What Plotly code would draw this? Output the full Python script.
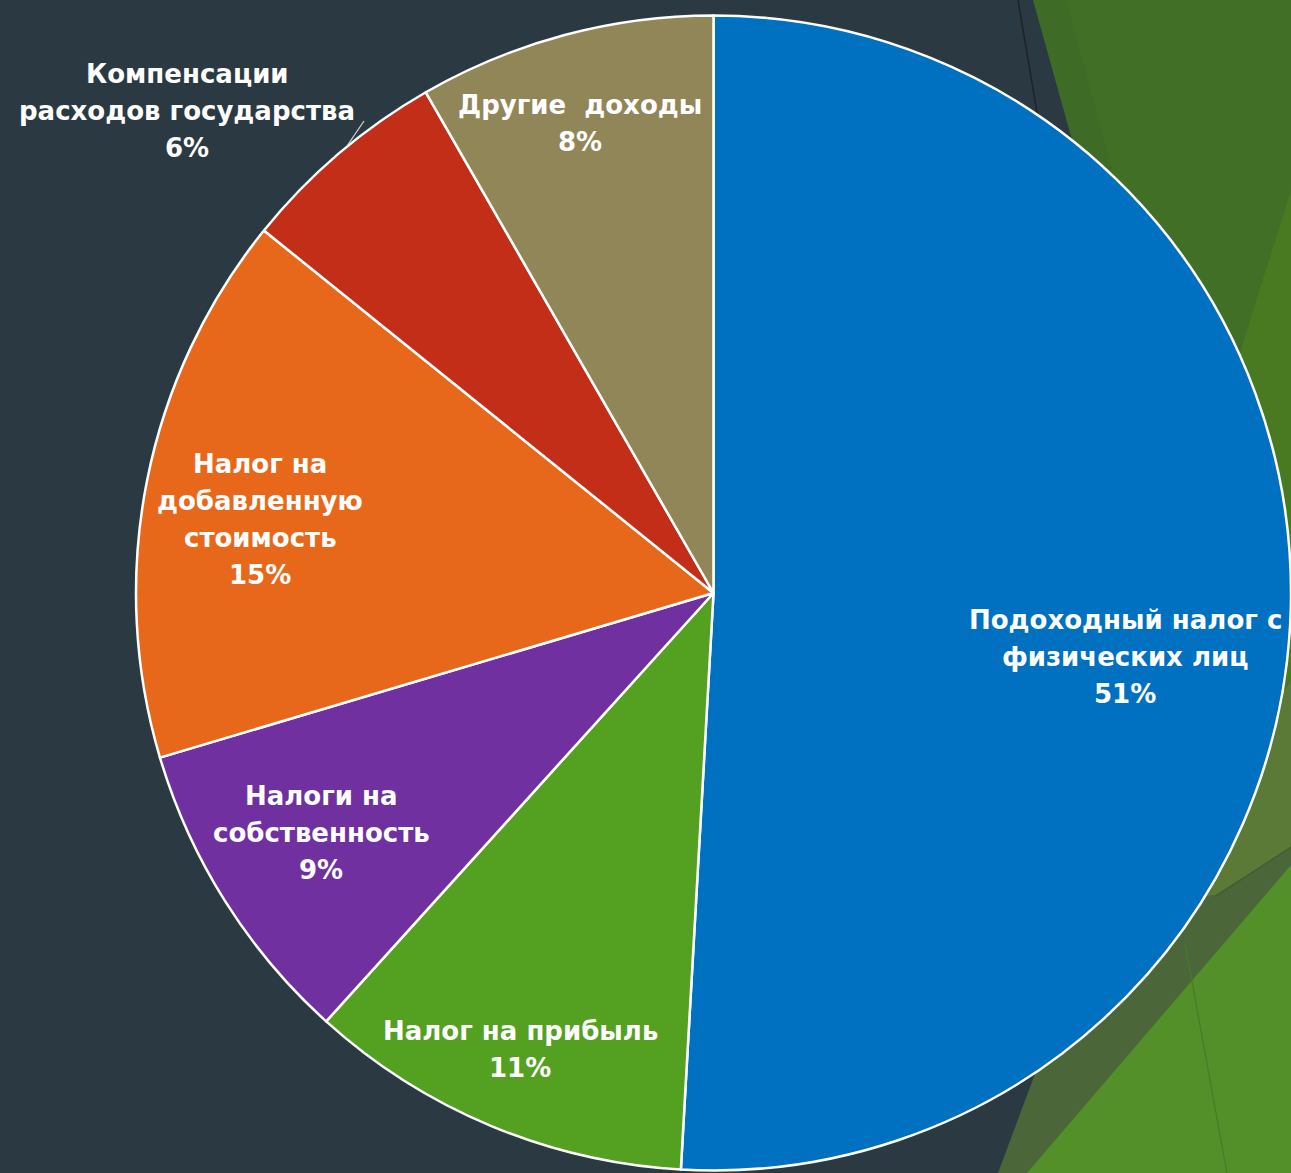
import plotly.graph_objects as go

W, H = 1291, 1173

labels = [
    "Подоходный налог с<br>физических лиц",
    "Налог на прибыль",
    "Налоги на<br>собственность",
    "Налог на<br>добавленную<br>стоимость",
    "Компенсации<br>расходов государства",
    "Другие  доходы",
]
values = [50.9, 10.8, 8.7, 15.4, 5.9, 8.3]
colors = ["#0070C0", "#54A021", "#7030A0", "#E7681A", "#C32E18", "#918657"]

# label placement (pixel position of the first text line centre) - style only
label_pos = [(1125, 620), (520, 1031), (321, 796), (260, 464), (187, 74), (580, 105)]
LINE_STEP = 37

BG = "#2B3A42"
FONT = "DejaVu Sans"
FSIZE = 26


def px(x, y):
    return x / W, 1 - y / H


fig = go.Figure()
fig.add_trace(go.Pie(
    labels=labels,
    values=values,
    sort=False,
    direction="clockwise",
    rotation=0,
    marker=dict(colors=colors, line=dict(color="white", width=2.5)),
    textinfo="none",
    hoverinfo="skip",
    showlegend=False,
    domain=dict(x=[136 / W, 1.0], y=[2 / H, 1158 / H]),
))

total = sum(values)
annotations = []
for lab, val, (x0, y0) in zip(labels, values, label_pos):
    lines = lab.split("<br>") + [f"{round(val / total * 100)}%"]
    for i, ln in enumerate(lines):
        X, Y = px(x0, y0 + i * LINE_STEP)
        annotations.append(dict(
            x=X, y=Y, xref="paper", yref="paper", text=f"<b>{ln}</b>",
            showarrow=False, xanchor="center", yanchor="middle",
            font=dict(family=FONT, size=FSIZE, color="white"),
        ))


def poly(points, color, opacity=1.0):
    d = ""
    for i, (x, y) in enumerate(points):
        X, Y = px(x, y)
        d += ("M" if i == 0 else "L") + f"{X},{Y} "
    d += "Z"
    return dict(type="path", xref="paper", yref="paper", path=d,
                fillcolor=color, line=dict(width=0), opacity=opacity, layer="below")


def seg(p0, p1, color, width=1.2, layer="below"):
    X0, Y0 = px(*p0)
    X1, Y1 = px(*p1)
    return dict(type="line", xref="paper", yref="paper", x0=X0, y0=Y0, x1=X1, y1=Y1,
                line=dict(color=color, width=width), layer=layer)


shapes = [
    poly([(1033, 0), (1291, 0), (1291, 760), (1150, 420)], "#3E6B26"),
    poly([(1066, 0), (1291, 0), (1291, 190), (1245, 340), (1180, 420)], "#416F25"),
    poly([(1291, 190), (1291, 720), (1200, 480)], "#497A22"),
    poly([(1291, 680), (1291, 1173), (998, 1173), (1100, 900)], "#4B6639"),
    poly([(1291, 680), (1291, 847), (1215, 895), (1150, 900)], "#5B7A38"),
    poly([(1291, 865), (1291, 1173), (1027, 1173)], "#53902A"),
    seg((1018, 0), (1040, 130), "#1E2328", 1.5),
    seg((1291, 847), (1215, 897), "#4A5A30", 1.2),
    seg((1185, 943), (1227, 1173), "#4A7A28", 1.2),
    # leader line of the outside label
    seg((364, 121), (347, 146), "#D8D8D8", 1.2, "above"),
]

fig.update_layout(
    width=W, height=H,
    margin=dict(l=0, r=0, t=0, b=0, pad=0, autoexpand=False),
    paper_bgcolor=BG,
    plot_bgcolor=BG,
    shapes=shapes,
    annotations=annotations,
    font=dict(family=FONT, color="white"),
)

fig.write_html("out.html")
